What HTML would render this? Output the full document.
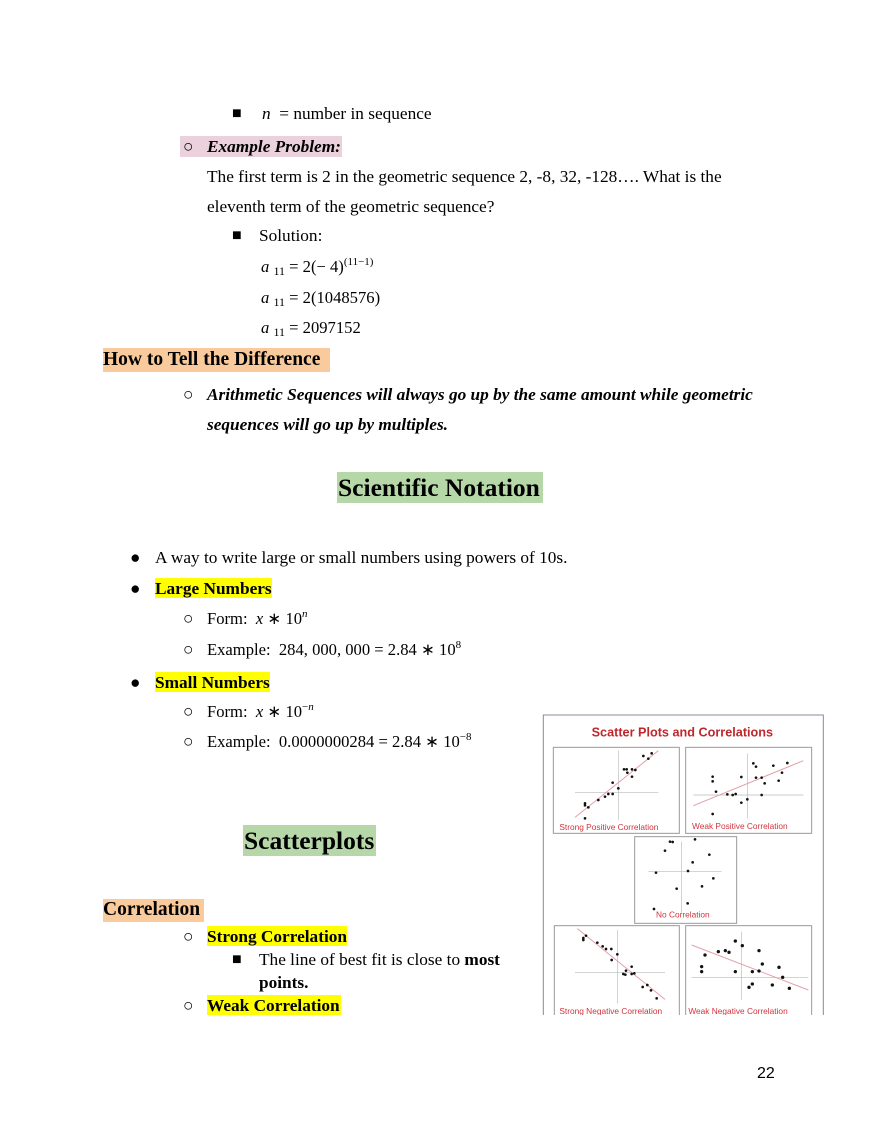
<!DOCTYPE html>
<html><head><meta charset="utf-8"><style>
html,body{margin:0;padding:0;background:#fff;}
body{width:880px;height:1139px;position:relative;overflow:hidden;font-family:"Liberation Serif",serif;font-size:17.3px;color:#000;}
.t{position:absolute;white-space:nowrap;line-height:20px;margin-top:1px;}
.b{font-weight:bold;}
.bi{font-weight:bold;font-style:italic;}
i{font-style:italic;}
sup{font-size:11px;vertical-align:7px;line-height:0;}
sub{font-size:12px;vertical-align:-3px;line-height:0;}
.sq{font-size:16px;}
.m{font-size:16.6px;}
.hl{position:absolute;}
</style></head><body>
<div class="hl" style="left:180px;top:136px;width:162px;height:21px;background:#ead1dc"></div>
<div class="hl" style="left:103px;top:348px;width:227px;height:24px;background:#f9cb9c"></div>
<div class="hl" style="left:337px;top:472px;width:206px;height:31px;background:#b6d7a8"></div>
<div class="hl" style="left:155px;top:578px;width:117px;height:20px;background:#ffff00"></div>
<div class="hl" style="left:155px;top:672px;width:115px;height:20px;background:#ffff00"></div>
<div class="hl" style="left:243px;top:825px;width:133px;height:31px;background:#b6d7a8"></div>
<div class="hl" style="left:103px;top:899px;width:101px;height:23px;background:#f9cb9c"></div>
<div class="hl" style="left:207px;top:926px;width:140px;height:20px;background:#ffff00"></div>
<div class="hl" style="left:207px;top:995px;width:134px;height:20px;background:#ffff00"></div>

<div class="t sq" style="left:232px;top:103px">■</div>
<div class="t" style="left:262px;top:103px"><i>n</i> &nbsp;= number in sequence</div>
<div class="t" style="left:183px;top:136px">○</div>
<div class="t bi" style="left:207px;top:136px">Example Problem:</div>
<div class="t" style="left:207px;top:166px">The first term is 2 in the geometric sequence 2, -8, 32, -128…. What is the</div>
<div class="t" style="left:207px;top:196px">eleventh term of the geometric sequence?</div>
<div class="t sq" style="left:232px;top:225px">■</div>
<div class="t" style="left:259px;top:225px">Solution:</div>
<div class="t m" style="left:261px;top:256px"><i>a</i> <sub>11</sub> = 2(− 4)<sup>(11−1)</sup></div>
<div class="t m" style="left:261px;top:287px"><i>a</i> <sub>11</sub> = 2(1048576)</div>
<div class="t m" style="left:261px;top:317px"><i>a</i> <sub>11</sub> = 2097152</div>
<div class="t b" style="left:103px;top:348px;font-size:19.5px;line-height:22px">How to Tell the Difference</div>
<div class="t" style="left:183px;top:384px">○</div>
<div class="t bi" style="left:207px;top:384px">Arithmetic Sequences will always go up by the same amount while geometric</div>
<div class="t bi" style="left:207px;top:414px">sequences will go up by multiples.</div>
<div class="t b" style="left:338px;top:473px;font-size:25.5px;line-height:28px">Scientific Notation</div>
<div class="t" style="left:130px;top:547px">●</div>
<div class="t" style="left:155px;top:547px">A way to write large or small numbers using powers of 10s.</div>
<div class="t" style="left:130px;top:578px">●</div>
<div class="t b" style="left:155px;top:578px">Large Numbers</div>
<div class="t" style="left:183px;top:608px">○</div>
<div class="t m" style="left:207px;top:608px">Form: &nbsp;<i>x</i> ∗ 10<sup><i>n</i></sup></div>
<div class="t" style="left:183px;top:639px">○</div>
<div class="t m" style="left:207px;top:639px">Example: &nbsp;284, 000, 000 = 2.84 ∗ 10<sup>8</sup></div>
<div class="t" style="left:130px;top:672px">●</div>
<div class="t b" style="left:155px;top:672px">Small Numbers</div>
<div class="t" style="left:183px;top:701px">○</div>
<div class="t m" style="left:207px;top:701px">Form: &nbsp;<i>x</i> ∗ 10<sup>−<i>n</i></sup></div>
<div class="t" style="left:183px;top:731px">○</div>
<div class="t m" style="left:207px;top:731px">Example: &nbsp;0.0000000284 = 2.84 ∗ 10<sup>−8</sup></div>
<div class="t b" style="left:244px;top:826px;font-size:25.5px;line-height:28px">Scatterplots</div>
<div class="t b" style="left:103px;top:898px;font-size:19.5px;line-height:22px">Correlation</div>
<div class="t" style="left:183px;top:926px">○</div>
<div class="t b" style="left:207px;top:926px">Strong Correlation</div>
<div class="t sq" style="left:232px;top:949px">■</div>
<div class="t" style="left:259px;top:949px">The line of best fit is close to <b>most</b></div>
<div class="t b" style="left:259px;top:972px">points.</div>
<div class="t" style="left:183px;top:995px">○</div>
<div class="t b" style="left:207px;top:995px">Weak Correlation</div>
<div class="t" style="left:757px;top:1063px;font-family:'Liberation Sans',sans-serif;font-size:16px">22</div>

<svg style="position:absolute;left:0;top:0" width="880" height="1139">
<defs><clipPath id="c"><rect x="0" y="0" width="880" height="1015"/></clipPath></defs>
<g clip-path="url(#c)"><g transform="translate(540,710) scale(0.33333)" font-family="Liberation Sans, sans-serif">
<path d="M10 940 V15 H850 V940" fill="none" stroke="#8a88a0" stroke-width="3"/>
<text x="427" y="80" text-anchor="middle" font-size="38" font-weight="bold" fill="#c0272d">Scatter Plots and Correlations</text>
<g fill="#fff" stroke="#9a9a9a" stroke-width="3">
<rect x="40" y="112" width="378" height="258"/><rect x="437" y="112" width="378" height="258"/>
<rect x="284" y="380" width="306" height="260"/><rect x="43" y="647" width="375" height="290"/><rect x="437" y="647" width="378" height="290"/>
</g>
<g stroke="#bbb" stroke-width="2">
<path d="M105 247H355M235 122V330"/><path d="M460 255H790M622 130V325"/><path d="M325 485H545M425 395V610"/><path d="M105 788H375M232 660V880"/><path d="M455 803H805M605 665V870"/>
</g>
<g stroke="#e2a0a8" stroke-width="3">
<path d="M105 322L355 122"/><path d="M460 287L790 152"/><path d="M112 656L375 868"/><path d="M455 705L805 840"/>
</g>
<g fill="#111">
<circle cx="135" cy="325" r="4"/><circle cx="135" cy="280" r="4"/><circle cx="135" cy="286" r="4"/><circle cx="145" cy="292" r="4"/><circle cx="175" cy="270" r="4"/><circle cx="195" cy="260" r="4"/><circle cx="205" cy="252" r="4"/><circle cx="218" cy="252" r="4"/><circle cx="218" cy="218" r="4"/><circle cx="235" cy="235" r="4"/><circle cx="252" cy="178" r="4"/><circle cx="260" cy="178" r="4"/><circle cx="262" cy="188" r="4"/><circle cx="276" cy="178" r="4"/><circle cx="286" cy="180" r="4"/><circle cx="276" cy="200" r="4"/><circle cx="310" cy="138" r="4"/><circle cx="325" cy="146" r="4"/><circle cx="335" cy="130" r="4"/>
<circle cx="518" cy="200" r="4"/><circle cx="518" cy="214" r="4"/><circle cx="528" cy="245" r="4"/><circle cx="518" cy="312" r="4"/><circle cx="562" cy="253" r="4"/><circle cx="578" cy="255" r="4"/><circle cx="587" cy="252" r="4"/><circle cx="604" cy="201" r="4"/><circle cx="604" cy="278" r="4"/><circle cx="622" cy="268" r="4"/><circle cx="640" cy="160" r="4"/><circle cx="648" cy="170" r="4"/><circle cx="648" cy="203" r="4"/><circle cx="665" cy="203" r="4"/><circle cx="665" cy="255" r="4"/><circle cx="674" cy="220" r="4"/><circle cx="700" cy="167" r="4"/><circle cx="716" cy="212" r="4"/><circle cx="726" cy="188" r="4"/><circle cx="742" cy="159" r="4"/>
<circle cx="348" cy="488" r="4"/><circle cx="375" cy="422" r="4"/><circle cx="390" cy="395" r="4"/><circle cx="398" cy="396" r="4"/><circle cx="444" cy="483" r="4"/><circle cx="458" cy="457" r="4"/><circle cx="465" cy="388" r="4"/><circle cx="508" cy="434" r="4"/><circle cx="520" cy="505" r="4"/><circle cx="486" cy="529" r="4"/><circle cx="410" cy="536" r="4"/><circle cx="443" cy="580" r="4"/><circle cx="342" cy="597" r="4"/>
<circle cx="130" cy="690" r="4"/><circle cx="130" cy="684" r="4"/><circle cx="138" cy="677" r="4"/><circle cx="172" cy="698" r="4"/><circle cx="188" cy="709" r="4"/><circle cx="198" cy="717" r="4"/><circle cx="214" cy="717" r="4"/><circle cx="232" cy="733" r="4"/><circle cx="215" cy="750" r="4"/><circle cx="250" cy="792" r="4"/><circle cx="256" cy="794" r="4"/><circle cx="258" cy="782" r="4"/><circle cx="275" cy="770" r="4"/><circle cx="275" cy="792" r="4"/><circle cx="283" cy="790" r="4"/><circle cx="308" cy="831" r="4"/><circle cx="322" cy="825" r="4"/><circle cx="333" cy="841" r="4"/><circle cx="350" cy="865" r="4"/>
<circle cx="485" cy="770" r="5"/><circle cx="485" cy="785" r="5"/><circle cx="495" cy="735" r="5"/><circle cx="535" cy="725" r="5"/><circle cx="556" cy="722" r="5"/><circle cx="567" cy="727" r="5"/><circle cx="586" cy="693" r="5"/><circle cx="607" cy="707" r="5"/><circle cx="586" cy="785" r="5"/><circle cx="637" cy="785" r="5"/><circle cx="657" cy="722" r="5"/><circle cx="667" cy="762" r="5"/><circle cx="657" cy="783" r="5"/><circle cx="717" cy="772" r="5"/><circle cx="728" cy="802" r="5"/><circle cx="697" cy="825" r="5"/><circle cx="627" cy="832" r="5"/><circle cx="637" cy="822" r="5"/><circle cx="748" cy="835" r="5"/>
</g>
<g fill="#d0343c" font-size="25">
<text x="58" y="360">Strong Positive Correlation</text>
<text x="456" y="357">Weak Positive Correlation</text>
<text x="348" y="622">No Correlation</text>
<text x="58" y="912">Strong Negative Correlation</text>
<text x="445" y="912">Weak Negative Correlation</text>
</g>
</g></g>
</svg>
</body></html>
